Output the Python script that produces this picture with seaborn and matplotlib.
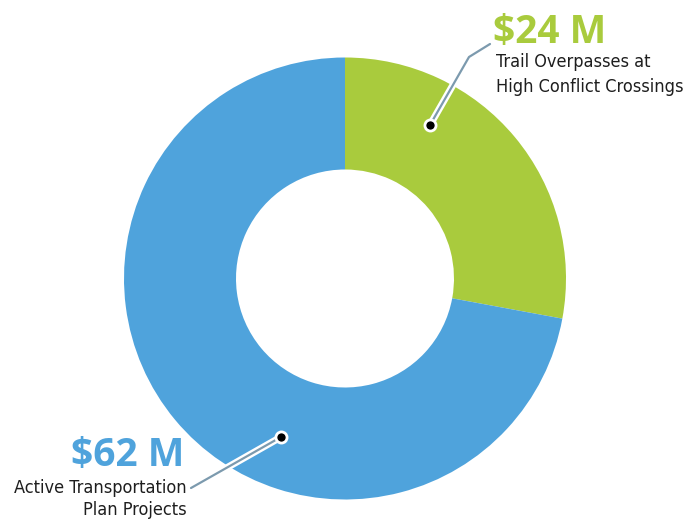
import matplotlib
matplotlib.use("Agg")
import matplotlib.pyplot as plt
import matplotlib.patheffects as pe
import seaborn as sns

# Funding split (millions of dollars)
categories = [["Trail Overpasses at", "High Conflict Crossings"],
              ["Active Transportation", "Plan Projects"]]
amounts = [24, 62]
amount_labels = ["$24 M", "$62 M"]
colors = ["#A9CB3D", "#4FA3DC"]

sns.set_theme(style="white")
plt.rcParams["font.family"] = ["DejaVu Sans"]

W, H = 694, 523
fig = plt.figure(figsize=(W / 100, H / 100), dpi=100)
ax = fig.add_axes([0, 0, 1, 1])

cx, cy, r = 345, H - 278.5, 221
ax.pie(amounts, colors=colors, startangle=90, counterclock=False,
       center=(cx, cy), radius=r, frame=True,
       wedgeprops=dict(width=112, linewidth=0))
ax.set_xlim(0, W)
ax.set_ylim(0, H)
ax.set_aspect("equal")
ax.axis("off")

line_fx = [pe.Stroke(linewidth=5, foreground="white"), pe.Normal()]
line_col = "#7C9AAE"

# leader for the trail overpasses slice
ax.plot([430, 469, 490], [H - 125, H - 57, H - 44], color=line_col, lw=1.6,
        solid_capstyle="round", path_effects=line_fx, zorder=3)
ax.plot([430], [H - 125], "o", ms=8, color="black", mec="white", mew=2, zorder=4)

# leader for the active transportation slice
ax.plot([281, 191], [H - 437, H - 488], color=line_col, lw=1.6,
        solid_capstyle="round", path_effects=line_fx, zorder=3)
ax.plot([281], [H - 437], "o", ms=8, color="black", mec="white", mew=2, zorder=4)

bold = ["Open Sans", "DejaVu Sans"]
amount_kw = dict(fontsize=28, fontweight="bold", family=bold, va="baseline")
label_kw = dict(color="#1E1E1E", fontsize=13, fontstretch="condensed",
                family="DejaVu Sans", va="baseline")

ax.text(493, H - 43, amount_labels[0], color=colors[0], ha="left", **amount_kw)
ax.text(496, H - 67, categories[0][0], ha="left", **label_kw)
ax.text(496, H - 92, categories[0][1], ha="left", **label_kw)

ax.text(184, H - 466, amount_labels[1], color=colors[1], ha="right", **amount_kw)
ax.text(187, H - 493, categories[1][0], ha="right", **label_kw)
ax.text(187, H - 515, categories[1][1], ha="right", **label_kw)

fig.savefig("out.png", dpi=100, facecolor="white")
